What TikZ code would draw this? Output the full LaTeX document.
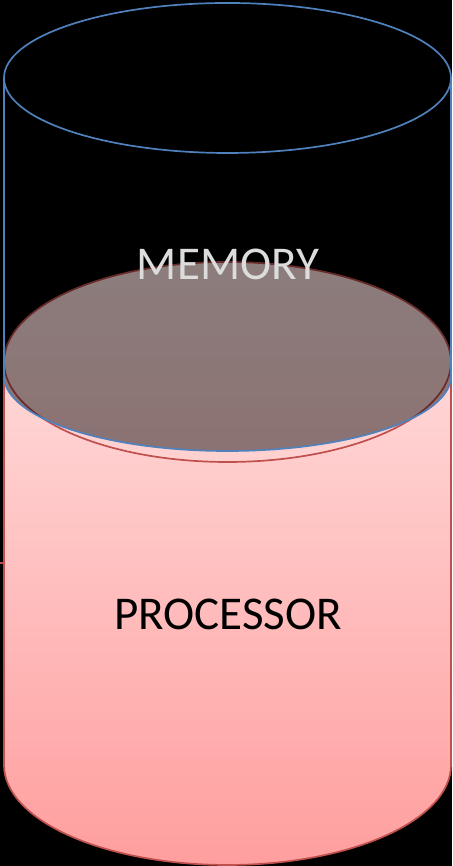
\documentclass[tikz,border=0pt]{standalone}
\usepackage{fontspec}
\setmainfont{Carlito}
\usetikzlibrary{positioning}
\definecolor{memline}{HTML}{4F81BD}
\definecolor{procline}{HTML}{C0504D}
\definecolor{proctop}{HTML}{FFD8D8}
\definecolor{procbot}{HTML}{FF9E9E}
\definecolor{lidtop}{HTML}{FFE4E4}
\definecolor{lidbot}{HTML}{FFD0D0}
\definecolor{memtext}{HTML}{DCDCDC}
\tikzset{
  memedge/.style={draw=memline, line width=1.7pt},
  procedge/.style={draw=procline, line width=1.7pt},
  lab/.style={font=\fontsize{47pt}{52pt}\selectfont, anchor=base, inner sep=0pt},
}

\begin{document}
\begin{tikzpicture}[x=1pt, y=1pt]
    \fill[black] (0,0) rectangle (452,866);
    \useasboundingbox (0,0) rectangle (452,866);
    % processor cylinder
    \shade[top color=proctop, bottom color=procbot]
      (4,504) -- (4,101) arc[start angle=180, end angle=360, x radius=223.5pt, y radius=100pt]
      -- (451,504) -- cycle;
    \draw[procedge] (4,504) -- (4,101) arc[start angle=180, end angle=360, x radius=223.5pt, y radius=100pt]
      -- (451,504);
    \shade[top color=lidtop, bottom color=lidbot] (227.5,504) ellipse[x radius=223.5pt, y radius=100pt];
    \draw[procedge] (227.5,504) ellipse[x radius=223.5pt, y radius=100pt];
    \draw[procline, line width=2pt] (0,303) -- (4,303);
    % memory cylinder, see-through over the processor lid
    \fill[black, opacity=0.45]
      (4,788) -- (4,490) arc[start angle=180, end angle=360, x radius=223.5pt, y radius=75pt]
      -- (451,788) -- cycle;
    \draw[memedge] (4,788) -- (4,490) arc[start angle=180, end angle=360, x radius=223.5pt, y radius=75pt]
      -- (451,788);
    \draw[memedge] (227.5,788) ellipse[x radius=223.5pt, y radius=75pt];
    \node[lab, text=memtext] (memory) at (228,586) {MEMORY};
    \node[lab, text=black] (processor) at (228,236) {PROCESSOR};
\end{tikzpicture}
\end{document}
